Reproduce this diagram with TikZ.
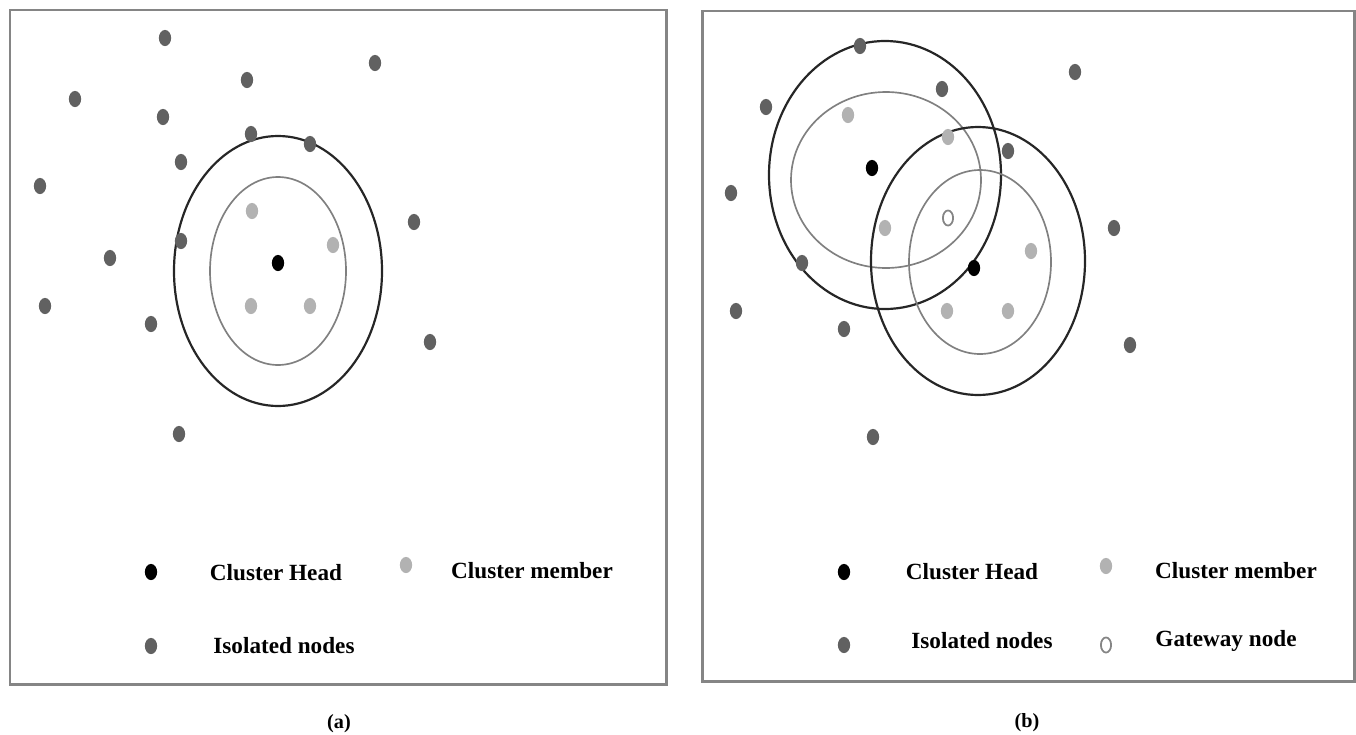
\documentclass[tikz,border=0pt]{standalone}
\usepackage{fontspec}
\setmainfont{Liberation Serif}
\usetikzlibrary{graphs,shapes.geometric}

\definecolor{isogray}{gray}{0.38}
\definecolor{memgray}{gray}{0.70}
\definecolor{framegray}{gray}{0.52}

\tikzset{
  dot/.style={ellipse, minimum width=7pt, minimum height=9.2pt, inner sep=0pt},
  isolated/.style={dot, fill=isogray},
  member/.style={dot, fill=memgray},
  head/.style={dot, fill=black},
  gateway/.style={dot, draw=framegray, line width=1pt, fill=white,
                  minimum width=5.8pt, minimum height=8.6pt},
  keytext/.style={font=\fontsize{13.2}{15}\selectfont\bfseries},
  captext/.style={font=\fontsize{11.5}{13}\selectfont\bfseries},
  panel/.style={draw=framegray, line width=1.7pt},
  outer range/.style={draw=black!85, line width=1.25pt},
  inner range/.style={draw=black!50, line width=0.95pt},
}

\begin{document}
\begin{tikzpicture}[x=0.02cm, y=-0.02cm]
\useasboundingbox (0,0) rectangle (1356,734);

% frames
\draw[panel] (10,10) rectangle (666,684);
\draw[panel] (702,11) rectangle (1354,681);

% (a) one cluster
\draw[outer range] (278,271) ellipse [x radius=104, y radius=135];
\draw[inner range] (278,271) ellipse [x radius=68, y radius=94];

\graph [
    nodes={isolated},   % default is a stray node
    empty nodes,
    no placement
]
{
    ai1[at={(165,38)}], ai2[at={(375,63)}], ai3[at={(247,80)}],
    ai4[at={(75,99)}], ai5[at={(163,117)}], ai6[at={(251,134)}],
    ai7[at={(310,144)}], ai8[at={(181,162)}], ai9[at={(40,186)}],
    ai10[at={(414,222)}], ai11[at={(181,241)}], ai12[at={(110,258)}],
    ai13[at={(45,306)}], ai14[at={(151,324)}], ai15[at={(430,342)}],
    ai16[at={(179,434)}],
    % members round the head
    am1[member, at={(252,211)}], am2[member, at={(333,245)}],
    am3[member, at={(251,306)}], am4[member, at={(310,306)}],
    ah[head, at={(278,263)}]
};

% (a) key
\node[head] (akeyhead) at (151,572) {};
\node[keytext] (akeyheadtxt) at (276,573) {Cluster Head};
\node[member] (akeymem) at (406,565) {};
\node[keytext] (akeymemtxt) at (532,571) {Cluster member};
\node[isolated] (akeyiso) at (151,646) {};
\node[keytext] (akeyisotxt) at (284,646) {Isolated nodes};

\node[captext] (capa) at (339,724) {(a)};

% (b) two clusters sharing a gateway
\draw[outer range] (885,175) ellipse [x radius=116, y radius=134];
\draw[inner range] (886,180) ellipse [x radius=95, y radius=88];
\draw[outer range] (978,261) ellipse [x radius=107, y radius=134];
\draw[inner range] (980,262) ellipse [x radius=71, y radius=92];

\graph [
    nodes={isolated},
    empty nodes,
    no placement
]
{
    bi1[at={(860,46)}], bi2[at={(1075,72)}], bi3[at={(942,89)}],
    bi4[at={(766,107)}], bi5[at={(1008,151)}], bi6[at={(731,193)}],
    bi7[at={(1114,228)}], bi8[at={(802,263)}], bi9[at={(736,311)}],
    bi10[at={(844,329)}], bi11[at={(1130,345)}], bi12[at={(873,437)}],
    bm1[member, at={(848,115)}], bm2[member, at={(948,137)}],
    bm3[member, at={(885,228)}], bm4[member, at={(1031,251)}],
    bm5[member, at={(947,311)}], bm6[member, at={(1008,311)}],
    bh1[head, at={(872,168)}], bh2[head, at={(974,268)}],
    bg[gateway, at={(948,218)}]
};

% (b) key
\node[head] (bkeyhead) at (844,572) {};
\node[keytext] (bkeyheadtxt) at (972,572) {Cluster Head};
\node[member] (bkeymem) at (1106,566) {};
\node[keytext] (bkeymemtxt) at (1236,571) {Cluster member};
\node[isolated] (bkeyiso) at (844,645) {};
\node[keytext] (bkeyisotxt) at (982,641) {Isolated nodes};
\node[gateway] (bkeygate) at (1106,645) {};
\node[keytext] (bkeygatetxt) at (1226,641) {Gateway node};

\node[captext] (capb) at (1027,723) {(b)};
\end{tikzpicture}
\end{document}
